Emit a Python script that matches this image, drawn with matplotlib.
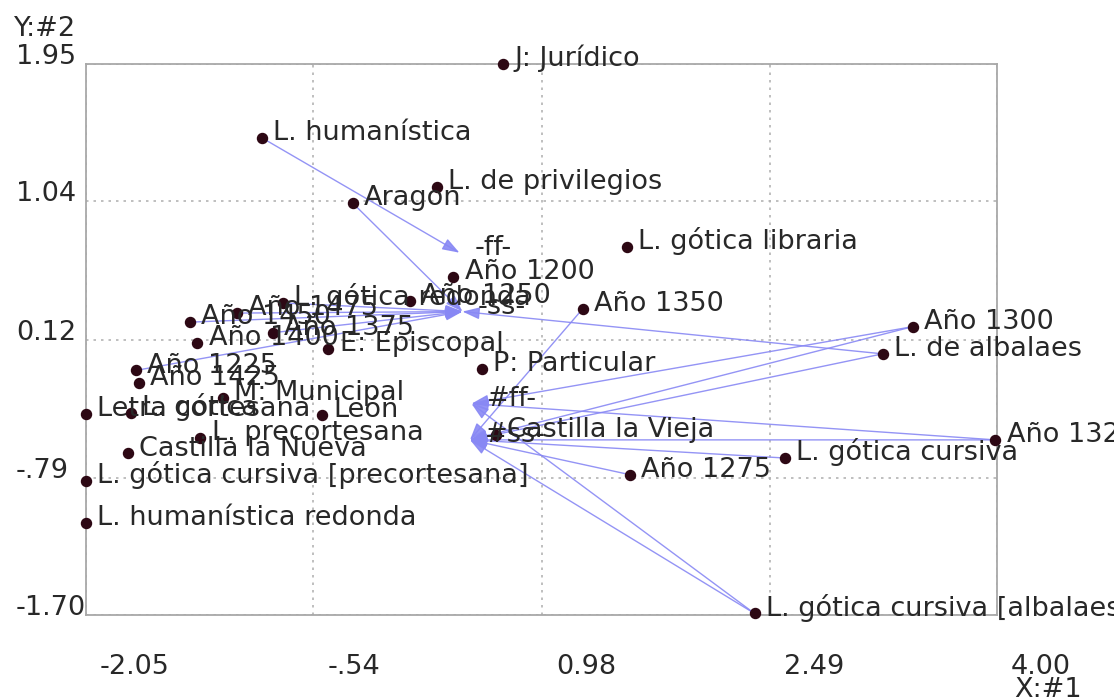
import matplotlib
matplotlib.use("Agg")
import matplotlib.pyplot as plt
from matplotlib.transforms import blended_transform_factory, offset_copy

# category points (dimension 1, dimension 2)
labels = [
    "J: Jurídico", "L. humanística", "L. de privilegios", "Aragon",
    "L. gótica libraria", "Año 1200", "Año 1250", "L. gótica redonda",
    "Año 1475", "Año 1450", "Año 1375", "Año 1400", "E: Episcopal",
    "Año 1350", "Año 1300", "L. de albalaes", "P: Particular", "Año 1225",
    "Año 1425", "M: Municipal", "Letra cortesana", "L. gótica", "León",
    "L. precortesana", "Castilla la Vieja", "Castilla la Nueva",
    "L. gótica cursiva", "Año 1325", "Año 1275",
    "L. gótica cursiva [precortesana]", "L. humanística redonda",
    "L. gótica cursiva [albalaes]",
]
dim1 = [
    0.72, -0.88, 0.28, -0.28,
    1.54, 0.39, 0.10, -0.74,
    -1.05, -1.36, -0.81, -1.31, -0.44,
    1.25, 3.44, 3.24, 0.58, -1.72,
    -1.70, -1.14, -2.05, -1.75, -0.48,
    -1.29, 0.67, -1.77,
    2.59, 3.99, 1.56,
    -2.05, -2.05,
    2.39,
]
dim2 = [
    1.95, 1.46, 1.135, 1.03,
    0.74, 0.54, 0.38, 0.367,
    0.30, 0.24, 0.17, 0.10, 0.06,
    0.33, 0.21, 0.03, -0.07, -0.08,
    -0.16, -0.26, -0.37, -0.36, -0.375,
    -0.53, -0.51, -0.63,
    -0.66, -0.54, -0.77,
    -0.81, -1.09,
    -1.69,
]

# group centroids the arrows point to
centroids = ["-ff-", "-ss-", "#ff-", "#ss-"]
cent_x = [0.43, 0.45, 0.51, 0.50]
cent_y = [0.70, 0.31, -0.30, -0.54]

arrows = [
    ("L. humanística", "-ff-"),
    ("Aragon", "-ss-"),
    ("Año 1450", "-ss-"),
    ("Año 1475", "-ss-"),
    ("L. gótica redonda", "-ss-"),
    ("Año 1375", "-ss-"),
    ("Año 1225", "-ss-"),
    ("L. de albalaes", "-ss-"),
    ("Año 1300", "#ff-"),
    ("Año 1300", "#ss-"),
    ("L. de albalaes", "#ss-"),
    ("Año 1325", "#ff-"),
    ("Año 1325", "#ss-"),
    ("L. gótica cursiva", "#ss-"),
    ("Año 1275", "#ss-"),
    ("L. gótica cursiva [albalaes]", "#ff-"),
    ("L. gótica cursiva [albalaes]", "#ss-"),
    ("Año 1350", "#ss-"),
]

x_ticks = [-2.05, -0.54, 0.98, 2.49, 4.00]
x_tick_labels = ["-2.05", "-.54", "0.98", "2.49", "4.00"]
y_ticks = [1.95, 1.04, 0.12, -0.79, -1.70]
y_tick_labels = ["1.95", "1.04", "0.12", "-.79", "-1.70"]

TEXT = "#282828"
ARROW = "#8888f4"
DOT = "#2d0814"

fig = plt.figure(figsize=(11.14, 7.0), dpi=100)
ax = fig.add_axes([86 / 1114, 1 - 615 / 700, 911 / 1114, 551 / 700])
ax.set_xlim(x_ticks[0], x_ticks[-1])
ax.set_ylim(y_ticks[-1], y_ticks[0])
ax.set_xticks(x_ticks)
ax.set_yticks(y_ticks)
ax.tick_params(length=0, labelbottom=False, labelleft=False)
ax.grid(True, linestyle=(0, (1.5, 3)), color="#b4b4b4", linewidth=1.2)
for s in ax.spines.values():
    s.set_color("#a8a8a8")
    s.set_linewidth(1.3)

pos = {n: (x, y) for n, x, y in zip(labels, dim1, dim2)}
pos.update({n: (x, y) for n, x, y in zip(centroids, cent_x, cent_y)})

for src, dst in arrows:
    ax.annotate(
        "", xy=pos[dst], xytext=pos[src],
        arrowprops=dict(arrowstyle="-|>,head_length=0.8,head_width=0.28",
                        color=ARROW, lw=1.0, mutation_scale=13,
                        shrinkA=0, shrinkB=0, alpha=0.9),
        annotation_clip=False, zorder=2,
    )

ax.scatter(dim1, dim2, s=52, color=DOT, zorder=4, clip_on=False)

for name, x, y in zip(labels, dim1, dim2):
    ax.annotate(name, (x, y), xytext=(8, -1.5), textcoords="offset points",
                fontsize=19.5, color=TEXT, ha="left", va="baseline",
                annotation_clip=False, zorder=5)
for name, x, y in zip(centroids, cent_x, cent_y):
    ax.annotate(name, (x, y), xytext=(11, -1.5), textcoords="offset points",
                fontsize=19.5, color=TEXT, ha="left", va="baseline",
                annotation_clip=False, zorder=5)

# axis numbers drawn the way the original program places them
bx = offset_copy(blended_transform_factory(ax.transData, fig.transFigure),
                 fig=fig, x=14, y=0, units="dots")
for v, t in zip(x_ticks, x_tick_labels):
    ax.text(v, 1 - 674 / 700, t, transform=bx, fontsize=19.5, color=TEXT,
            ha="left", va="baseline")
by = blended_transform_factory(fig.transFigure, ax.transData)
for v, t in zip(y_ticks, y_tick_labels):
    ax.text(16 / 1114, v, t, transform=by, fontsize=19.5, color=TEXT,
            ha="left", va="baseline")

fig.text(14 / 1114, 1 - 36 / 700, "Y:#2", fontsize=19.5, color=TEXT,
         ha="left", va="baseline")
fig.text(1014 / 1114, 1 - 697 / 700, "X:#1", fontsize=19.5, color=TEXT,
         ha="left", va="baseline")

fig.savefig("out.png", dpi=100)
